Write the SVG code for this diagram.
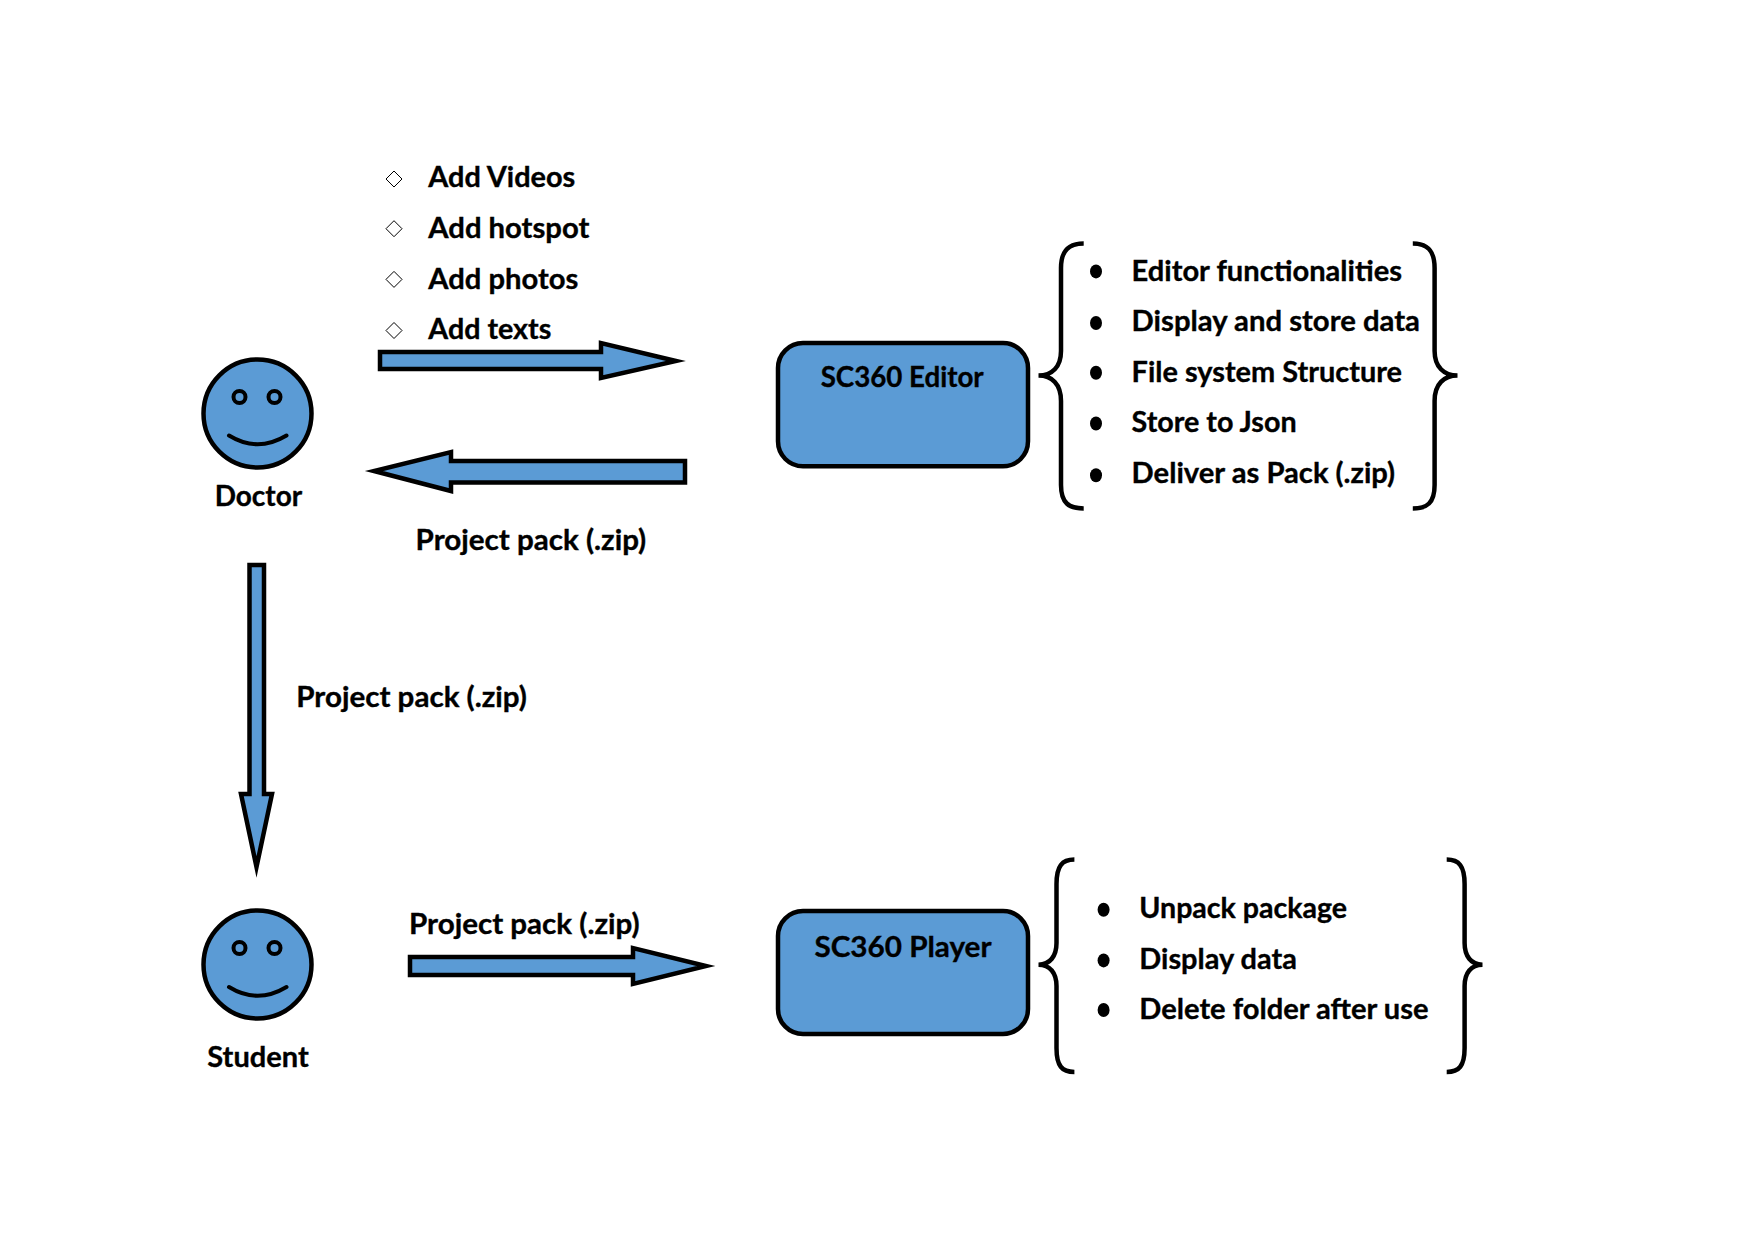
<svg xmlns="http://www.w3.org/2000/svg" width="1754" height="1240" viewBox="0 0 1754 1240">
<style>
text{font-family:"Lato","Carlito","Liberation Sans",sans-serif;font-weight:700;font-size:28.5px;fill:#000;stroke:#000;stroke-width:.35}
.s{fill:#5b9bd5;stroke:#000;stroke-width:4.5}
.a{fill:#5b9bd5;stroke:#000;stroke-width:4.5;stroke-miterlimit:10}
.l{fill:none;stroke:#000;stroke-width:4;stroke-linecap:round}
.b{fill:none;stroke:#000;stroke-width:4.5}
.d{fill:#fff;stroke:#000;stroke-width:1}
</style>
<rect width="1754" height="1240" fill="#fff"/>
<g id="connectors">
<polygon class="a" points="380,352 601,352 601,343 676,361 601,378 601,369 380,369"/>
<polygon class="a" points="685,461 451,461 451,452 374,471 451,491 451,482.5 685,482.5"/>
<polygon class="a" points="249.5,565 264,565 264,794 272,794 256.5,867 241,794 249.5,794"/>
<polygon class="a" points="410,957 633,957 633,948 706,966 633,984 633,975 410,975"/>
</g>
<g id="doctor">
<circle class="s" cx="257.5" cy="413.5" r="54"/>
<circle class="l" cx="239.5" cy="397" r="6"/><circle class="l" cx="274.5" cy="397" r="6"/>
<path class="l" d="M229,435.5Q257.5,453 286.5,435.5"/>
<text x="214.7" y="506.2" textLength="87.5" lengthAdjust="spacingAndGlyphs">Doctor</text>
</g>
<g id="student">
<circle class="s" cx="257.5" cy="964.5" r="54"/>
<circle class="l" cx="239.5" cy="948" r="6"/><circle class="l" cx="274.5" cy="948" r="6"/>
<path class="l" d="M229,987Q257.5,1004.5 286.5,987"/>
<text x="207.3" y="1066.5" textLength="101.4" lengthAdjust="spacingAndGlyphs">Student</text>
</g>
<g id="doctor-actions">
<path class="d" d="M394,171l8,8l-8,8l-8,-8zM394,220.7l8,8l-8,8l-8,-8zM394,271.4l8,8l-8,8l-8,-8zM394,322.5l8,8l-8,8l-8,-8z"/>
<text x="428.3" y="187.2" textLength="147" lengthAdjust="spacingAndGlyphs">Add Videos</text>
<text x="428.3" y="238.2" textLength="161" lengthAdjust="spacingAndGlyphs">Add hotspot</text>
<text x="428.3" y="288.5" textLength="150" lengthAdjust="spacingAndGlyphs">Add photos</text>
<text x="428.3" y="338.8" textLength="123" lengthAdjust="spacingAndGlyphs">Add texts</text>
</g>
<g id="labels">
<text x="415.6" y="550" textLength="230.6" lengthAdjust="spacingAndGlyphs">Project pack (.zip)</text>
<text x="296.3" y="707" textLength="230.6" lengthAdjust="spacingAndGlyphs">Project pack (.zip)</text>
<text x="409" y="933.5" textLength="230.6" lengthAdjust="spacingAndGlyphs">Project pack (.zip)</text>
</g>
<g id="sc360-editor">
<rect class="s" x="778" y="343" width="250" height="123.3" rx="25"/>
<text x="820.7" y="387.2" textLength="163" lengthAdjust="spacingAndGlyphs">SC360 Editor</text>
</g>
<g id="sc360-player">
<rect class="s" x="778" y="911" width="250" height="123" rx="25"/>
<text x="814.5" y="956.8" textLength="177" lengthAdjust="spacingAndGlyphs">SC360 Player</text>
</g>
<g id="editor-features">
<path class="b" d="M1083.7,243.6C1069,243.6 1061,250 1061,268V351C1061,367 1052,375.6 1038.5,375.6C1052,375.6 1061,384 1061,401V485C1061,503 1069,508.5 1083.7,508.5"/>
<path class="b" d="M1412.8,243.6C1427,243.6 1434.6,250 1434.6,268V351C1434.6,367 1444,375.6 1457.5,375.6C1444,375.6 1434.6,384 1434.6,401V485C1434.6,503 1427,508.5 1412.8,508.5"/>
<g><ellipse cx="1096" cy="271.4" rx="6" ry="7"/><ellipse cx="1096" cy="323" rx="6" ry="7"/><ellipse cx="1096" cy="372.8" rx="6" ry="7"/><ellipse cx="1096" cy="423.5" rx="6" ry="7"/><ellipse cx="1096" cy="475.2" rx="6" ry="7"/></g>
<text x="1131.6" y="280.6" textLength="270.4" lengthAdjust="spacingAndGlyphs">Editor functionalities</text>
<text x="1131.6" y="331.2" textLength="288.3" lengthAdjust="spacingAndGlyphs">Display and store data</text>
<text x="1131.6" y="381.5" textLength="270.4" lengthAdjust="spacingAndGlyphs">File system Structure</text>
<text x="1131.6" y="432" textLength="165" lengthAdjust="spacingAndGlyphs">Store to Json</text>
<text x="1131.6" y="483" textLength="263.5" lengthAdjust="spacingAndGlyphs">Deliver as Pack (.zip)</text>
</g>
<g id="player-features">
<path class="b" d="M1074.4,859.6C1062,859.6 1056.5,866 1056.5,884V943C1056.5,956 1050,964.7 1038.5,964.7C1050,964.7 1056.5,973 1056.5,986V1048C1056.5,1066 1062,1072 1074.4,1072"/>
<path class="b" d="M1446.7,859.6C1459,859.6 1464.6,866 1464.6,884V943C1464.6,956 1471,964.7 1482.5,964.7C1471,964.7 1464.6,973 1464.6,986V1048C1464.6,1066 1459,1072 1446.7,1072"/>
<g><ellipse cx="1103.6" cy="909.7" rx="6" ry="7"/><ellipse cx="1103.6" cy="960.4" rx="6" ry="7"/><ellipse cx="1103.6" cy="1010" rx="6" ry="7"/></g>
<text x="1139.3" y="918" textLength="207.8" lengthAdjust="spacingAndGlyphs">Unpack package</text>
<text x="1139.3" y="969.2" textLength="157.6" lengthAdjust="spacingAndGlyphs">Display data</text>
<text x="1139.3" y="1019.2" textLength="289.3" lengthAdjust="spacingAndGlyphs">Delete folder after use</text>
</g>
</svg>
